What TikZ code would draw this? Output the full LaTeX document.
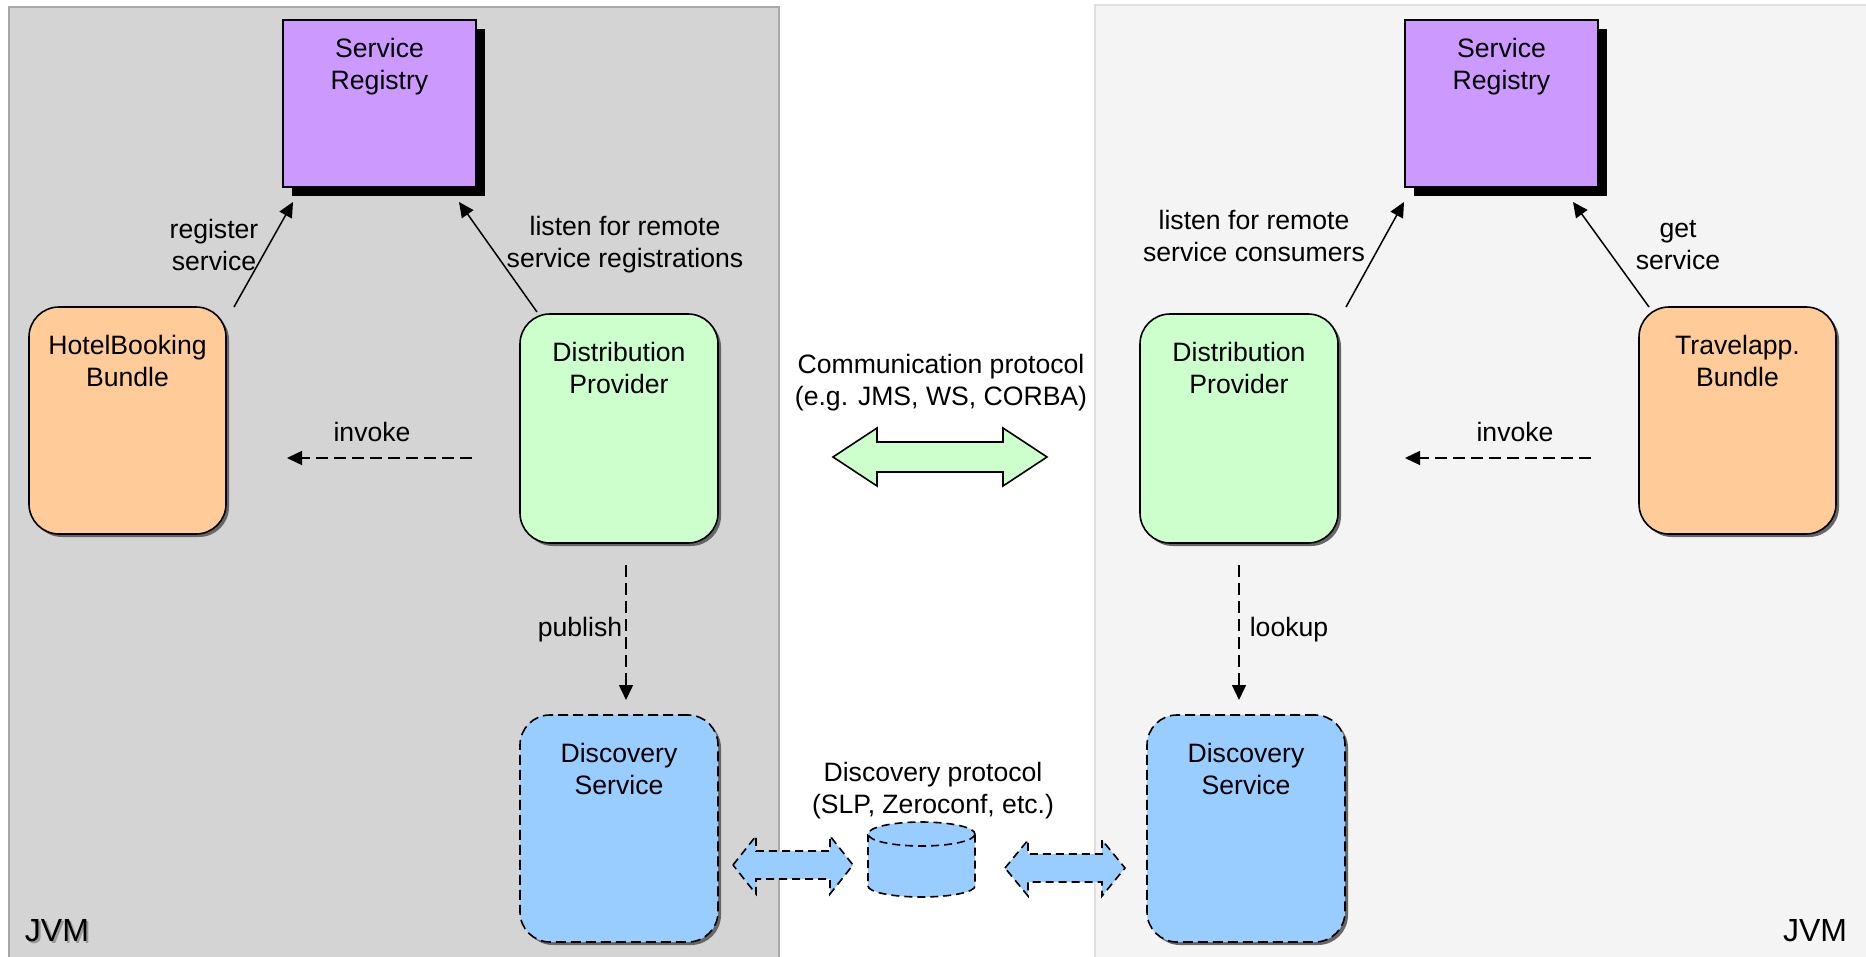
\documentclass[tikz,border=0pt]{standalone}
\usepackage{fontspec}
\setmainfont{Liberation Sans}
\usetikzlibrary{arrows.meta,shadows,calc}

\definecolor{regfill}{HTML}{CC99FF}
\definecolor{bundlefill}{HTML}{FFCC99}
\definecolor{provfill}{HTML}{CCFFCC}
\definecolor{discfill}{HTML}{99CCFF}
\definecolor{leftjvm}{HTML}{D4D4D4}
\definecolor{leftjvmedge}{HTML}{A8A8A8}
\definecolor{rightjvm}{HTML}{F4F4F4}
\definecolor{rightjvmedge}{HTML}{E0E0E0}

\tikzset{
  every node/.style={font=\fontsize{13.3}{16}\selectfont, inner sep=0pt, outer sep=0pt},
  regbox/.style={draw, line width=0.8pt, fill=regfill,
    minimum width=96.5pt, minimum height=83.5pt,
    drop shadow={shadow xshift=4.5pt, shadow yshift=-4.5pt, fill=black, opacity=1}},
  roundbox/.style={draw, line width=0.8pt, rounded corners=15pt,
    minimum width=98.5pt, minimum height=113.5pt,
    drop shadow={shadow xshift=1.5pt, shadow yshift=-1.5pt, fill=black!60, opacity=1}},
  bundlebox/.style={roundbox, fill=bundlefill},
  provbox/.style={roundbox, fill=provfill, minimum width=99pt, minimum height=114.5pt},
  discbox/.style={roundbox, fill=discfill, minimum width=99pt, dash pattern=on 5pt off 2.5pt},
  boxtitle/.style={anchor=north, align=center},
  lbl/.style={align=center},
  jvmtag/.style={font=\fontsize{16}{19}\selectfont},
  arr/.style={line width=0.75pt, -{Triangle[length=7.5pt,width=7pt]}},
  darr/.style={arr, dash pattern=on 6pt off 3pt},
  bigarrow/.style={draw, line width=0.8pt, fill=provfill},
  smallarrow/.style={draw, line width=0.8pt, fill=discfill, dash pattern=on 4pt off 2.5pt},
}

\begin{document}
\begin{tikzpicture}[x=0.5pt, y=-0.5pt]
\useasboundingbox (0,0) rectangle (1866,957);

% the two JVM areas
\fill[white] (0,0) rectangle (1866,957);
\draw[leftjvmedge, fill=leftjvm, line width=0.8pt] (9,7) rectangle (779,965);
\draw[rightjvmedge, fill=rightjvm, line width=0.8pt] (1095,5) rectangle (1875,965);

% left JVM
\node[regbox, label={[boxtitle, yshift=-9pt]north:{Service\\Registry}}] (srl) at (379.5,103.5) {};
\node[bundlebox, label={[boxtitle, yshift=-14pt]north:{HotelBooking\\Bundle}}] (hb) at (127.5,420.5) {};
\node[provbox, label={[boxtitle, yshift=-14pt]north:{Distribution\\Provider}}] (dpl) at (619,428.5) {};
\node[discbox, label={[boxtitle, yshift=-14pt]north:{Discovery\\Service}}] (dsl) at (619,828.5) {};

% right JVM
\node[regbox, label={[boxtitle, yshift=-9pt]north:{Service\\Registry}}] (srr) at (1501.5,103.5) {};
\node[provbox, label={[boxtitle, yshift=-14pt]north:{Distribution\\Provider}}] (dpr) at (1239,428.5) {};
\node[bundlebox, label={[boxtitle, yshift=-14pt]north:{Travelapp.\\Bundle}}] (tb) at (1737.5,420.5) {};
\node[discbox, label={[boxtitle, yshift=-14pt]north:{Discovery\\Service}}] (dsr) at (1246,828.5) {};

% connectors, left side
\draw[arr] ($(hb.north east)+(8,0)$) -- ($(srl.south west)+(10,15)$);
\draw[arr] ($(dpl.north west)+(17,-2)$) -- ($(srl.south east)+(-17,15)$);
\draw[darr] ($(dpl.south west)+(-48,-85)$) -- ($(hb.south east)+(61,-76)$);
\draw[darr] ($(dpl.south)+(7,22)$) -- ($(dsl.north)+(7,-15)$);

% connectors, right side
\draw[arr] ($(dpr.north east)+(8,-7)$) -- ($(srr.south west)+(-1,15)$);
\draw[arr] ($(tb.north west)+(10,0)$) -- ($(srr.south east)+(-25,15)$);
\draw[darr] ($(tb.south west)+(-48,-76)$) -- ($(dpr.south east)+(67,-85)$);
\draw[darr] ($(dpr.south)+(0,22)$) -- ($(dsr.north)+(-7,-15)$);

% connector labels
\node[lbl] (lregister) at (214,245) {register\\service};
\node[lbl] (llistenl) at (625,245) {listen for remote\\service registrations};
\node[lbl] (llistenr) at (1254,236) {listen for remote\\service consumers};
\node[lbl] (lget) at (1678,245) {get\\service};
\node (linvokel) at (372,432) {invoke};
\node (linvoker) at (1515,432) {invoke};
\node (lpublish) at (580,630) {publish};
\node (llookup) at (1289,630) {lookup};

% communication protocol
\node[lbl] (lcomm) at (941,383) {Communication protocol\\(e.g. JMS, WS, CORBA)};
\draw[bigarrow] (833,457) -- (877,428) -- (877,442) -- (1003,442) -- (1003,428)
  -- (1047,457) -- (1003,486) -- (1003,472) -- (877,472) -- (877,486) -- cycle;

% discovery protocol
\node[lbl] (ldisc) at (933,791) {Discovery protocol\\(SLP, Zeroconf, etc.)};
\draw[smallarrow] (733,865) -- (756,836) -- (756,851) -- (830,851) -- (830,836)
  -- (853,865) -- (830,894) -- (830,879) -- (756,879) -- (756,894) -- cycle;
\draw[smallarrow] (1005,868) -- (1028,840) -- (1028,854) -- (1102,854) -- (1102,840)
  -- (1125,868) -- (1102,896) -- (1102,882) -- (1028,882) -- (1028,896) -- cycle;

% discovery store (cylinder)
\fill[discfill] (868,834) -- (868,886) arc[start angle=180, end angle=0, x radius=53.5, y radius=11] -- (975,834) -- cycle;
\draw[line width=0.8pt, dash pattern=on 4pt off 2.5pt] (868,834) -- (868,886) arc[start angle=180, end angle=0, x radius=53.5, y radius=11] -- (975,834);
\draw[line width=0.8pt, fill=discfill, dash pattern=on 4pt off 2.5pt] (921.5,834) ellipse[x radius=53.5, y radius=12];

% JVM captions
\node[jvmtag, text=black!40] (jvmlshadow) at (59,933) {JVM};
\node[jvmtag] (jvml) at (57,931) {JVM};
\node[jvmtag] (jvmr) at (1815,931) {JVM};
\end{tikzpicture}
\end{document}
